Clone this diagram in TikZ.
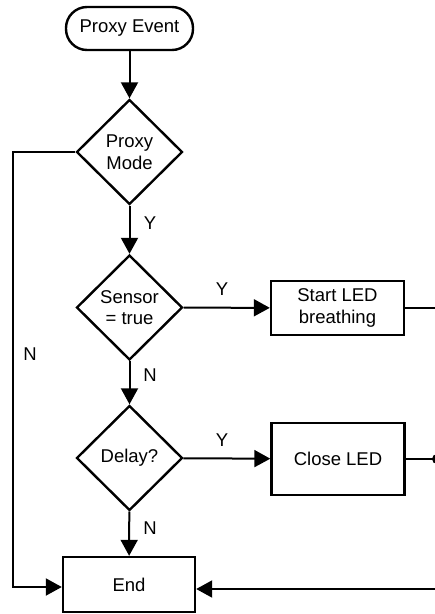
\documentclass[tikz,border=0pt]{standalone}
\usepackage{fontspec}
\setmainfont{Liberation Sans}
\usetikzlibrary{shapes.geometric,arrows.meta}
\begin{document}
\begin{tikzpicture}[x=1pt,y=-1pt,
  every node/.style={font=\fontsize{18.5}{21.5}\selectfont},
  shp/.style={draw=black,line width=2.4pt,inner sep=0pt,align=center},
  term/.style={shp,rectangle,rounded corners=21pt,minimum width=127pt,minimum height=43pt},
  dec/.style={shp,diamond,minimum width=106pt,minimum height=105pt},
  proc/.style={shp,rectangle,minimum width=133pt},
  arr/.style={line width=2pt,-{Triangle[length=16pt,width=17pt]}},
  ln/.style={line width=2pt},
  lbl/.style={inner sep=0pt}]
\useasboundingbox (0,0) rectangle (435,614);
\fill[white] (0,0) rectangle (435,614);

\node[term] (start) at (129.5,28.5) {Proxy Event};
\node[dec] (d1) at (129.5,152) {Proxy\\Mode};
\node[dec] (d2) at (129.5,307.5) {Sensor\\= true};
\node[proc,minimum height=54pt] (b1) at (337.5,308) {Start LED\\breathing};
\node[dec] (d3) at (129.5,458) {Delay?};
\node[proc,minimum height=72pt] (b2) at (338,459) {Close LED};
\node[proc,minimum width=132pt,minimum height=55pt] (end) at (129,584.5) {End};

\coordinate (lc) at (13,587);
\coordinate (r1) at (436,308);
\coordinate (r2) at (437,459);
\coordinate (r3) at (436,589);

\draw[arr] (start) -- (d1);
\draw[arr] (d1) -- (d2);
\draw[arr] (d2) -- (b1);
\draw[arr] (d2) -- (d3);
\draw[arr] (d3) -- (b2);
\draw[arr] (d3) -- (end);
\draw[arr] (d1.west) -| (lc) -- (lc -| end.west);
\draw[ln] (b1.east) -- (r1);
\draw[ln] (b2.east) -- (r2);
\fill (r2) circle (5pt);
\draw[arr] (r3) -- (r3 -| end.east);

\node[lbl] (y1) at (150,223) {Y};
\node[lbl] (y2) at (222,289) {Y};
\node[lbl] (n1) at (150,375) {N};
\node[lbl] (y3) at (222,440) {Y};
\node[lbl] (n2) at (150,528) {N};
\node[lbl] (nl) at (30,354) {N};
\end{tikzpicture}
\end{document}
